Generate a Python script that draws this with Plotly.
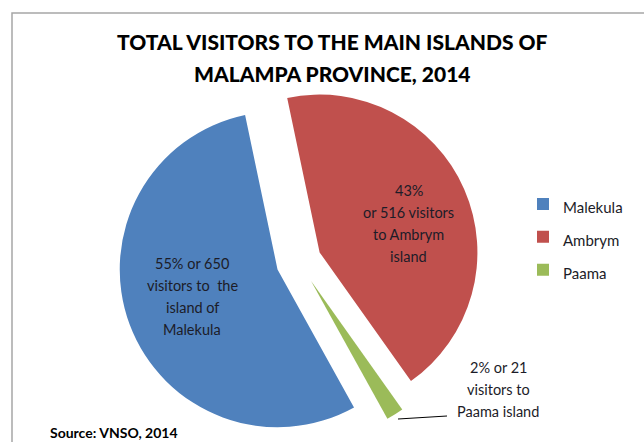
import plotly.graph_objects as go

# Visitors to the main islands of Malampa province, 2014
islands = ["Malekula", "Ambrym", "Paama"]
visitors = [650, 516, 21]
colors = ["#4F81BD", "#C0504D", "#9BBB59"]

W, H = 644, 442
M_TOP = 81
PLOT_H = H - M_TOP
FONT = "Lato, Calibri, sans-serif"


def px(x, y):
    """Pixel position -> paper coordinates (plot area spans full width)."""
    return x / W, 1 - (y - M_TOP) / PLOT_H


total = sum(visitors)
pct = [round(v / total * 100) for v in visitors]

label_lines = [
    [f"{pct[0]}% or {visitors[0]}", "visitors to  the", "island of", islands[0]],
    [f"{pct[1]}%", f"or {visitors[1]} visitors", f"to {islands[1]}", "island"],
    [f"{pct[2]}% or {visitors[2]}", "visitors to", f"{islands[2]} island"],
]
# centre x and first-line y of each data label block, line pitch in px
label_pos = [(192, 263), (409, 190), (498, 367)]
LINE_PITCH = 22.3

legend_names = [f'<span style="font-size:15px">{n}</span>' for n in islands]

fig = go.Figure(
    go.Pie(
        labels=legend_names,
        values=visitors,
        sort=False,
        direction="clockwise",
        rotation=151,
        pull=[0.144, 0.144, 0.144],
        marker=dict(colors=colors, line=dict(width=0)),
        textinfo="none",
        hovertemplate="%{value}<extra></extra>",
        domain=dict(x=[0.180, 0.748], y=[0, 1]),
    )
)

annotations = []
for lines, (x, y0) in zip(label_lines, label_pos):
    for i, line in enumerate(lines):
        ax, ay = px(x, y0 + i * LINE_PITCH)
        annotations.append(dict(
            x=ax, y=ay, xref="paper", yref="paper", text=line, showarrow=False,
            xanchor="center", yanchor="middle",
            font=dict(family=FONT, size=14.5, color="#1c1c28"),
        ))

# Title lines
for line, y in [("TOTAL VISITORS TO THE MAIN ISLANDS OF", 42), ("MALAMPA PROVINCE, 2014", 73)]:
    tx, ty = px(333, y)
    annotations.append(dict(
        x=tx, y=ty, xref="paper", yref="paper", text=line, showarrow=False,
        xanchor="center", yanchor="middle",
        font=dict(family=FONT, size=21, color="#000000", weight=900),
    ))

# Source note
sx, sy = px(48, 432)
annotations.append(dict(
    x=sx, y=sy, xref="paper", yref="paper", text="<b>Source: VNSO, 2014</b>", showarrow=False,
    xanchor="left", yanchor="middle",
    font=dict(family=FONT, size=14, color="#000000"),
))

shapes = []
# Chart frame
fx0, fy1 = px(12, 13)
shapes.append(dict(type="rect", xref="paper", yref="paper", x0=fx0, x1=1.05, y0=-0.1, y1=fy1,
                   line=dict(color="#a6a6a6", width=1.5), fillcolor="rgba(0,0,0,0)"))
# Leader line to the Paama slice
lx0, ly0 = px(398, 419)
lx1, ly1 = px(447, 416)
shapes.append(dict(type="line", xref="paper", yref="paper", x0=lx0, y0=ly0, x1=lx1, y1=ly1,
                   line=dict(color="#000000", width=1)))

lgx, lgy = px(523, 237)
fig.update_layout(
    width=W, height=H,
    margin=dict(l=0, r=0, t=M_TOP, b=0),
    paper_bgcolor="white",
    plot_bgcolor="white",
    showlegend=True,
    legend=dict(x=lgx, y=lgy, xanchor="left", yanchor="middle",
                font=dict(family=FONT, size=23, color="#1c1c28"),
                bgcolor="rgba(0,0,0,0)"),
    annotations=annotations,
    shapes=shapes,
)

fig.write_html("out.html")
